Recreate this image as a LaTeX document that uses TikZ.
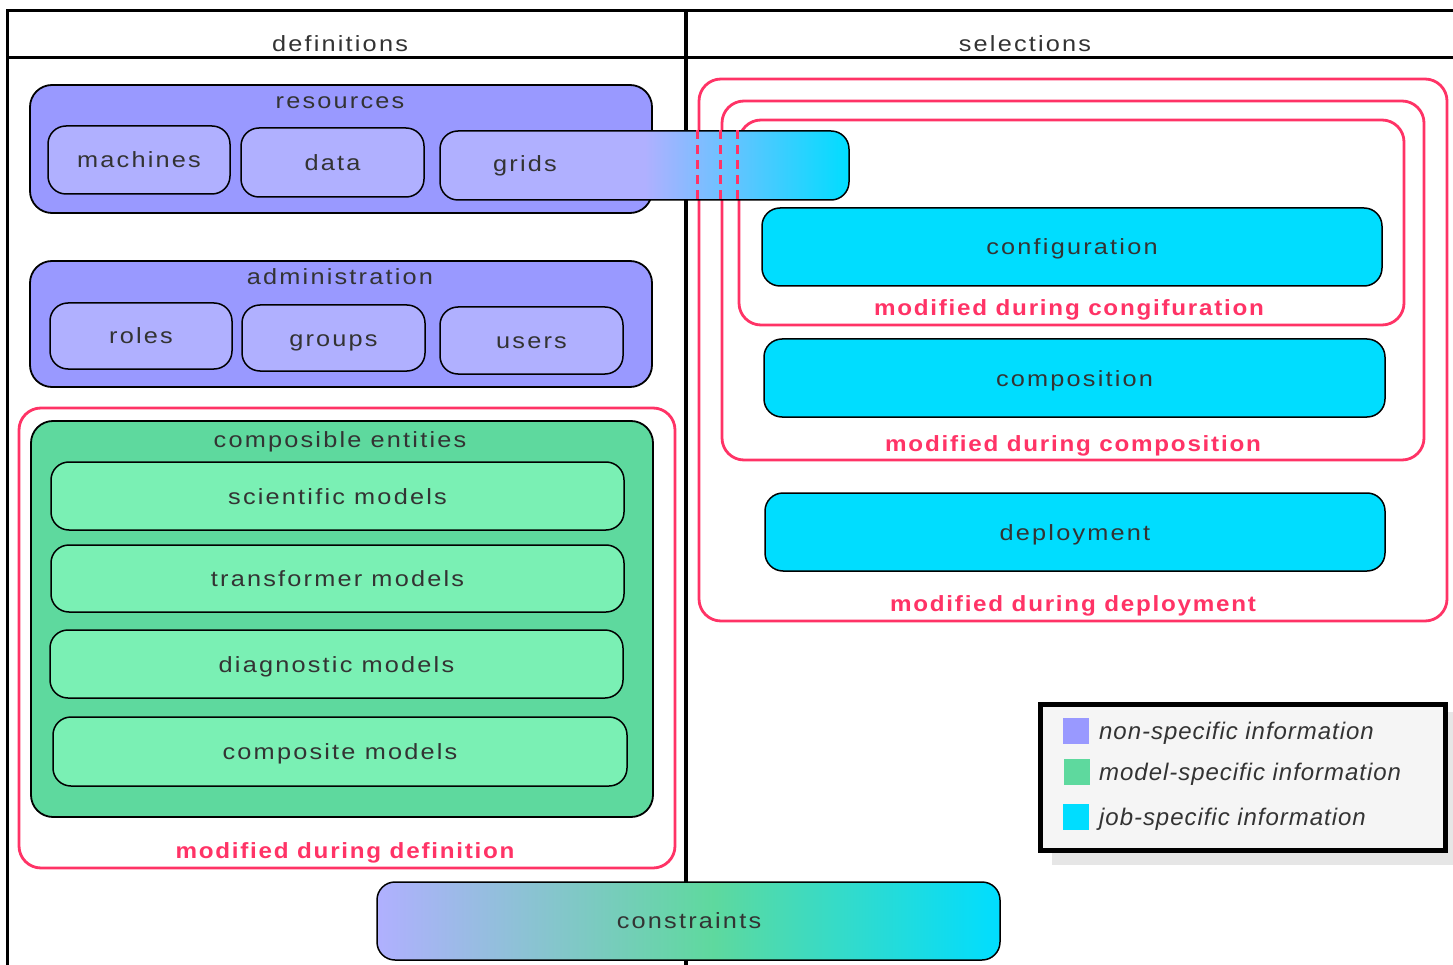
\documentclass[tikz,border=0pt]{standalone}
\usepackage{fontspec}
\setmainfont{Liberation Sans}[LetterSpace=10, FakeStretch=1.15]
\newfontfamily\redfont{Liberation Sans}[LetterSpace=8, FakeStretch=1.1]
\newfontfamily\legfont{Liberation Sans}[LetterSpace=4]
\usetikzlibrary{fit}
\definecolor{lav}{HTML}{9999FF}
\definecolor{lavlt}{HTML}{B0B0FF}
\definecolor{grn}{HTML}{5ED99E}
\definecolor{grnlt}{HTML}{7AF0B4}
\definecolor{cy}{HTML}{00DDFF}
\definecolor{rd}{HTML}{FF3366}
\definecolor{txt}{HTML}{333333}
\definecolor{shadowgray}{HTML}{E6E6E6}
\definecolor{legfill}{HTML}{F5F5F5}
\pgfdeclarehorizontalshading{gridshade}{100bp}{color(0bp)=(lavlt); color(50bp)=(lavlt); color(75bp)=(cy); color(100bp)=(cy)}
\pgfdeclarehorizontalshading{conshade}{100bp}{color(0bp)=(lavlt); color(25bp)=(lavlt); color(52bp)=(grn); color(75bp)=(cy); color(100bp)=(cy)}
\begin{document}
\begin{tikzpicture}[x=1pt,y=-1pt,
  every node/.style={font=\fontsize{22}{26}\selectfont, text=txt, inner sep=0pt, text height=16pt, text depth=0pt},
  group/.style={draw=black, line width=1.8pt, rounded corners=22pt},
  item/.style={draw=black, line width=1.5pt, rounded corners=18pt},
  redbox/.style={draw=rd, line width=2.8pt, rounded corners=22pt},
  redlbl/.style={text=rd, font=\fontsize{22}{26}\redfont\bfseries},
  reddash/.style={draw=rd, line width=2.8pt, dash pattern=on 9pt off 6pt},
  frame/.style={draw=black, line width=3pt},
  legtxt/.style={anchor=west, font=\fontsize{24}{28}\legfont\itshape},
  legsq/.style={minimum width=26pt, minimum height=26pt, text height=0pt}]
\useasboundingbox (0,0) rectangle (1453,965);

% frame
\coordinate (tl) at (7,11);
\coordinate (tr) at (1453,11);
\coordinate (hl) at (7,58);
\coordinate (hr) at (1453,58);
\coordinate (bl) at (7,965);
\coordinate (mt) at (686,11);
\coordinate (mb) at (686,965);
\draw[line width=3pt] (tr) -- (tl) -- (bl);
\draw[frame] (hl) -- (hr);
\draw[line width=4pt] (mt) -- (mb);
\node (hdef) at (340,44) {definitions};
\node (hsel) at (1025,44) {selections};

% resources
\node[group, fill=lav, fit={(30,85) (652,213)}] (resources) {};
\node (restitle) at (340,101) {resources};
\node[item, fill=lavlt, fit={(48,126) (230,194)}] (machines) {};
\node (tmachines) at (machines.center) {machines};
\node[item, fill=lavlt, fit={(241,128) (424,197)}] (data) {};
\node (tdata) at (data.center) {data};

% administration
\node[group, fill=lav, fit={(30,261) (652,387)}] (admin) {};
\node (admtitle) at (340,277) {administration};
\node[item, fill=lavlt, fit={(50,303) (232,369)}] (roles) {};
\node (troles) at (roles.center) {roles};
\node[item, fill=lavlt, fit={(242,305) (425,371)}] (groups) {};
\node (tgroups) at (groups.center) {groups};
\node[item, fill=lavlt, fit={(440,307) (623,374)}] (users) {};
\node (tusers) at (users.center) {users};

% definition zone
\node[redbox, fit={(19,408) (675,868)}] (defzone) {};
\node[redlbl] (deflbl) at (345,850) {modified during definition};
\node[group, fill=grn, fit={(31,421) (653,817)}] (composible) {};
\node (comptitle) at (340,439) {composible entities};
\node[item, fill=grnlt, fit={(51,462) (624,530)}] (scientific) {};
\node (tscientific) at (scientific.center) {scientific models};
\node[item, fill=grnlt, fit={(51,545) (624,612)}] (transformer) {};
\node (ttransformer) at (transformer.center) {transformer models};
\node[item, fill=grnlt, fit={(50,630) (623,698)}] (diagnostic) {};
\node (tdiagnostic) at (diagnostic.center) {diagnostic models};
\node[item, fill=grnlt, fit={(53,717) (627,786)}] (composite) {};
\node (tcomposite) at (composite.center) {composite models};

% selection zones
\node[redbox, fit={(699,79) (1447,621)}] (depzone) {};
\node[redbox, fit={(722,101) (1424,460)}] (compzone) {};
\node[redbox, fit={(739,120) (1404,325)}] (confzone) {};
\node[redlbl] (deplbl) at (1073,603) {modified during deployment};
\node[redlbl] (complbl) at (1073,443) {modified during composition};
\node[redlbl] (conflbl) at (1069,308) {modified during congifuration};

\node[item, fill=cy, fit={(762,208) (1382,286)}] (configuration) {};
\node (tconfiguration) at (configuration.center) {configuration};
\node[item, fill=cy, fit={(764,339) (1385,417)}] (composition) {};
\node (tcomposition) at (composition.center) {composition};
\node[item, fill=cy, fit={(765,493) (1385,571)}] (deployment) {};
\node (tdeployment) at (deployment.center) {deployment};

% grids (spans both columns)
\node[item, shading=gridshade, fit={(440,131) (849,200)}] (grids) {};
\node (gridstxt) at (525,164) {grids};
\draw[reddash] (depzone.west |- grids.north) -- (depzone.west |- grids.south);
\draw[reddash] (compzone.west |- grids.north) -- (compzone.west |- grids.south);
\draw[reddash] (confzone.west |- grids.north) -- (confzone.west |- grids.south);

% constraints
\node[item, shading=conshade, fit={(377,882) (1000,960)}] (constraints) {};
\node (tconstraints) at (689,920) {constraints};

% legend
\fill[shadowgray] (1052,712) rectangle (1453,865);
\node[draw=black, line width=5pt, fill=legfill, fit={(1040,704) (1445,850)}, text height=0pt] (legend) {};
\node[legsq, fill=lav] (sq1) at (1076,731) {};
\node[legsq, fill=grn] (sq2) at (1077,772) {};
\node[legsq, fill=cy] (sq3) at (1076,817) {};
\node[legtxt] (lt1) at (1099,731) {non-specific information};
\node[legtxt] (lt2) at (1099,772) {model-specific information};
\node[legtxt] (lt3) at (1099,817) {job-specific information};
\end{tikzpicture}
\end{document}
